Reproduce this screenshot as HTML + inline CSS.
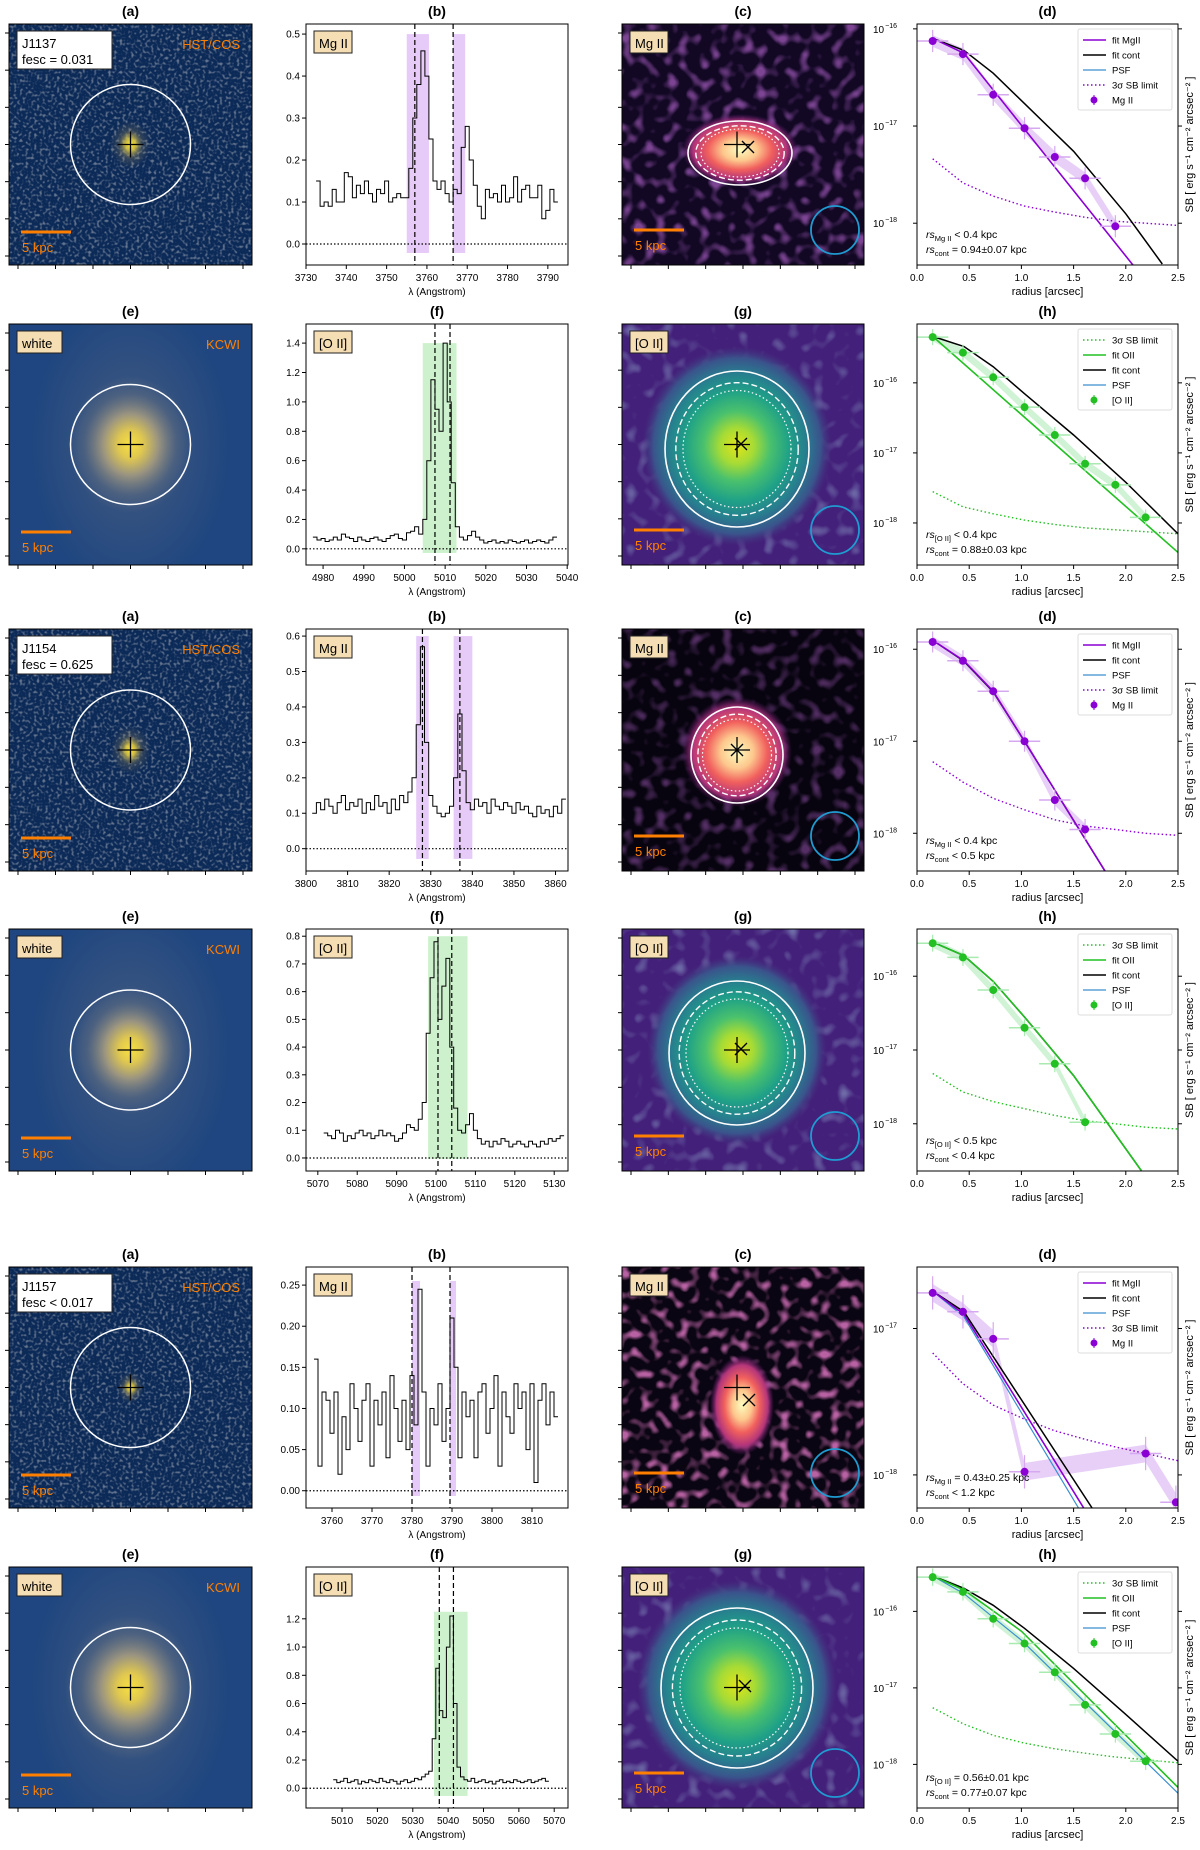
<!DOCTYPE html>
<html><head><meta charset="utf-8"><style>
html,body{margin:0;padding:0;background:#fff;}
svg text{font-family:"Liberation Sans","DejaVu Sans",sans-serif;}
</style></head><body>
<svg id="fig" xmlns="http://www.w3.org/2000/svg" width="1200" height="1845" viewBox="0 0 1200 1845">
<defs>
<filter id="speck" x="0" y="0" width="100%" height="100%">
<feTurbulence type="fractalNoise" baseFrequency="0.35" numOctaves="1" seed="3"/>
<feColorMatrix type="matrix" values="0 0 0 0 0.42  0 0 0 0 0.45  0 0 0 0 0.5  4 0 0 0 -2.0"/>
</filter>
<filter id="magnoise" x="0" y="0" width="100%" height="100%">
<feTurbulence type="fractalNoise" baseFrequency="0.09" numOctaves="1" seed="8"/>
<feColorMatrix type="matrix" values="0 0 0 0 0.35  0 0 0 0 0.1  0 0 0 0 0.48  4 0 0 0 -2.0"/>
</filter>
<filter id="magnoise2" x="0" y="0" width="100%" height="100%">
<feTurbulence type="fractalNoise" baseFrequency="0.1" numOctaves="1" seed="11"/>
<feColorMatrix type="matrix" values="0 0 0 0 0.6  0 0 0 0 0.15  0 0 0 0 0.45  4 0 0 0 -2.0"/>
</filter>
<filter id="virnoise" x="0" y="0" width="100%" height="100%">
<feTurbulence type="fractalNoise" baseFrequency="0.08" numOctaves="1" seed="4"/>
<feColorMatrix type="matrix" values="0 0 0 0 0.25  0 0 0 0 0.32  0 0 0 0 0.55  3 0 0 0 -1.6"/>
</filter>
<radialGradient id="gA"><stop offset="0" stop-color="#ffee30"/><stop offset="0.25" stop-color="#e8d040" stop-opacity="0.85"/><stop offset="0.6" stop-color="#8a8060" stop-opacity="0.3"/><stop offset="1" stop-color="#8a8060" stop-opacity="0"/></radialGradient>
<radialGradient id="gE"><stop offset="0" stop-color="#f8e040"/><stop offset="0.2" stop-color="#e0c850"/><stop offset="0.45" stop-color="#9a9480"/><stop offset="0.75" stop-color="#5a6a80" stop-opacity="0.6"/><stop offset="1" stop-color="#5a6a80" stop-opacity="0"/></radialGradient>
<radialGradient id="gHalo"><stop offset="0" stop-color="#6a7080" stop-opacity="0.5"/><stop offset="1" stop-color="#6a7080" stop-opacity="0"/></radialGradient>
<radialGradient id="gV"><stop offset="0" stop-color="#e3e418"/><stop offset="0.18" stop-color="#a5db36"/><stop offset="0.35" stop-color="#4ac16d"/><stop offset="0.55" stop-color="#1fa187"/><stop offset="0.72" stop-color="#277f8e"/><stop offset="0.88" stop-color="#3a548c"/><stop offset="1" stop-color="#46327e" stop-opacity="0"/></radialGradient>
<radialGradient id="gM"><stop offset="0" stop-color="#fcfdbf"/><stop offset="0.3" stop-color="#fdc78d"/><stop offset="0.55" stop-color="#f1605d"/><stop offset="0.8" stop-color="#b5367a"/><stop offset="1" stop-color="#721f81" stop-opacity="0"/></radialGradient>
</defs>
</svg>
<script>
// ---------------- data ----------------
const rowTops = [24, 324, 629, 929, 1267, 1567];
const rowBots = [265, 565, 871, 1171, 1508, 1808];

const spec1Start = 3733;
const spec1Flux = [0.15,0.09,0.10,0.09,0.13,0.10,0.10,0.17,0.16,0.11,0.14,0.12,0.15,0.12,0.10,0.13,0.12,0.15,0.10,0.11,0.12,0.11,0.11,0.18,0.30,0.38,0.46,0.40,0.25,0.15,0.13,0.15,0.12,0.10,0.13,0.12,0.23,0.28,0.20,0.14,0.09,0.06,0.13,0.11,0.12,0.10,0.14,0.10,0.11,0.16,0.10,0.13,0.14,0.11,0.11,0.14,0.06,0.08,0.13,0.10];
const spec1Lines = [3757, 3766.5];
const spec1Shades = [[3755, 3760.5], [3766.5, 3769.5]];
const spec1YTicks = [0, 0.1, 0.2, 0.3, 0.4, 0.5];
const spec1XTicks = [3730, 3740, 3750, 3760, 3770, 3780, 3790];

const spec2Start = 4978;
const spec2Flux = [0.08,0.06,0.07,0.05,0.06,0.08,0.06,0.10,0.08,0.07,0.05,0.08,0.06,0.05,0.07,0.08,0.06,0.05,0.07,0.09,0.10,0.07,0.06,0.11,0.12,0.15,0.10,0.20,0.60,1.15,0.95,0.80,1.40,1.00,0.45,0.15,0.08,0.06,0.09,0.12,0.08,0.06,0.04,0.05,0.06,0.04,0.05,0.04,0.06,0.05,0.04,0.05,0.06,0.04,0.05,0.06,0.05,0.04,0.06,0.08];
const spec2Lines = [5007.5, 5011.2];
const spec2Shades = [[5004.5, 5012.8]];
const spec2YTicks = [0, 0.2, 0.4, 0.6, 0.8, 1.0, 1.2, 1.4];
const spec2XTicks = [4980, 4990, 5000, 5010, 5020, 5030, 5040];

const spec3Start = 3802;
const spec3Flux = [0.10,0.13,0.11,0.14,0.12,0.10,0.13,0.15,0.11,0.13,0.12,0.14,0.10,0.13,0.11,0.15,0.12,0.13,0.10,0.14,0.11,0.15,0.13,0.16,0.20,0.35,0.57,0.30,0.15,0.12,0.10,0.09,0.10,0.12,0.20,0.38,0.22,0.13,0.11,0.14,0.12,0.13,0.10,0.14,0.12,0.11,0.13,0.12,0.10,0.13,0.11,0.12,0.10,0.09,0.12,0.10,0.11,0.09,0.12,0.10,0.14];
const spec3Lines = [3828, 3837];
const spec3Shades = [[3826.5, 3829.5], [3835.5, 3840]];
const spec3YTicks = [0, 0.1, 0.2, 0.3, 0.4, 0.5, 0.6];
const spec3XTicks = [3800, 3810, 3820, 3830, 3840, 3850, 3860];

const spec4Start = 5072;
const spec4Flux = [0.09,0.08,0.07,0.10,0.09,0.06,0.08,0.07,0.09,0.10,0.08,0.09,0.07,0.08,0.10,0.08,0.09,0.08,0.06,0.07,0.09,0.12,0.11,0.10,0.14,0.20,0.45,0.65,0.78,0.50,0.62,0.72,0.40,0.18,0.10,0.09,0.12,0.16,0.10,0.07,0.05,0.06,0.04,0.06,0.05,0.07,0.06,0.04,0.05,0.06,0.05,0.04,0.06,0.05,0.04,0.06,0.05,0.07,0.06,0.07,0.08];
const spec4Lines = [5100.5, 5104];
const spec4Shades = [[5098, 5108]];
const spec4YTicks = [0, 0.1, 0.2, 0.3, 0.4, 0.5, 0.6, 0.7, 0.8];
const spec4XTicks = [5070, 5080, 5090, 5100, 5110, 5120, 5130];

const spec5Start = 3756;
const spec5Flux = [0.16,0.03,0.12,0.11,0.07,0.12,0.02,0.09,0.05,0.13,0.10,0.06,0.11,0.13,0.03,0.11,0.08,0.12,0.04,0.14,0.10,0.06,0.11,0.05,0.14,0.08,0.245,0.12,0.03,0.10,0.08,0.13,0.06,0.10,0.21,0.15,0.04,0.12,0.09,0.11,0.04,0.12,0.13,0.07,0.10,0.14,0.03,0.12,0.09,0.07,0.13,0.10,0.12,0.05,0.13,0.01,0.11,0.13,0.08,0.12,0.09];
const spec5Lines = [3780, 3789.5];
const spec5Shades = [[3780, 3782], [3789.5, 3791]];
const spec5YTicks = [0, 0.05, 0.10, 0.15, 0.20, 0.25];
const spec5XTicks = [3760, 3770, 3780, 3790, 3800, 3810];

const spec6Start = 5008;
const spec6Flux = [0.06,0.04,0.05,0.07,0.04,0.05,0.06,0.03,0.05,0.04,0.06,0.05,0.04,0.07,0.05,0.04,0.06,0.05,0.03,0.05,0.06,0.04,0.05,0.07,0.06,0.08,0.10,0.12,0.35,0.85,0.55,0.50,1.00,1.22,0.60,0.15,0.08,0.06,0.05,0.07,0.04,0.05,0.06,0.04,0.05,0.03,0.05,0.06,0.04,0.05,0.04,0.06,0.05,0.04,0.05,0.06,0.04,0.05,0.06,0.07,0.05];
const spec6Lines = [5037.5, 5041.5];
const spec6Shades = [[5036, 5045.5]];
const spec6YTicks = [0, 0.2, 0.4, 0.6, 0.8, 1.0, 1.2];
const spec6XTicks = [5010, 5020, 5030, 5040, 5050, 5060, 5070];

const limitR = [0.15,0.44,0.73,1.03,1.32,1.61,1.90,2.19,2.5];
const prof1R = [0.15,0.44,0.73,1.03,1.32,1.61,1.90];
const prof1SB = [7.5e-17,5.5e-17,2.1e-17,9.5e-18,4.8e-18,2.9e-18,0.93e-18];
const fit1R = [0.15,0.45,2.07];
const fit1SB = [8e-17,5.6e-17,3.7e-19];
const cont1R = [0.15,0.45,0.73,1.03,1.5,2.0,2.35];
const cont1SB = [8e-17,6e-17,3.5e-17,1.7e-17,5.5e-18,1.25e-18,3.8e-19];
const lim1SB = [4.6e-18,2.6e-18,1.9e-18,1.5e-18,1.3e-18,1.15e-18,1.05e-18,1.0e-18,0.95e-18];

const prof2R = [0.15,0.44,0.73,1.03,1.32,1.61,1.90,2.19];
const prof2SB = [4.5e-16,2.7e-16,1.2e-16,4.5e-17,1.8e-17,7e-18,3.5e-18,1.2e-18];
const fit2R = [0.15,2.5];
const fit2SB = [4.6e-16,3.8e-19];
const cont2R = [0.15,0.45,0.73,1.03,1.5,2.0,2.5];
const cont2SB = [4.6e-16,3.3e-16,1.7e-16,7e-17,1.8e-17,3.8e-18,7e-19];
const lim2SB = [2.8e-18,1.7e-18,1.35e-18,1.1e-18,0.95e-18,0.85e-18,0.8e-18,0.75e-18,0.7e-18];

const prof3R = [0.15,0.44,0.73,1.03,1.32,1.61];
const prof3SB = [1.2e-16,7.5e-17,3.5e-17,1.0e-17,2.3e-18,1.1e-18];
const fit3R = [0.15,0.45,0.73,1.03,1.8];
const fit3SB = [1.25e-16,7.5e-17,3.5e-17,1e-17,3.9e-19];
const cont3R = [0.15,0.45,0.73,1.03,1.8];
const cont3SB = [1.25e-16,7.4e-17,3.45e-17,1e-17,3.9e-19];
const lim3SB = [6e-18,3.6e-18,2.4e-18,1.8e-18,1.4e-18,1.2e-18,1.1e-18,1.0e-18,0.95e-18];

const prof4R = [0.15,0.44,0.73,1.03,1.32,1.61];
const prof4SB = [2.8e-16,1.8e-16,6.5e-17,2e-17,6.5e-18,1.05e-18];
const fit4R = [0.15,0.45,0.73,1.03,1.5,2.15];
const fit4SB = [2.9e-16,1.9e-16,8.5e-17,2.8e-17,4.5e-18,2.3e-19];
const cont4R = [0.15,0.45,0.73,1.03,1.5,2.15];
const cont4SB = [2.9e-16,1.9e-16,8.5e-17,2.8e-17,4.5e-18,2.3e-19];
const lim4SB = [4.8e-18,2.7e-18,2e-18,1.6e-18,1.3e-18,1.1e-18,1.0e-18,0.9e-18,0.85e-18];

const prof5R = [0.15,0.44,0.73,1.03,2.19,2.48];
const prof5SB = [1.75e-17,1.3e-17,8.5e-18,1.05e-18,1.4e-18,6.5e-19];
const fit5R = [0.15,0.45,1.6];
const fit5SB = [1.8e-17,1.25e-17,5.9e-19];
const cont5R = [0.15,0.45,1.68];
const cont5SB = [1.8e-17,1.3e-17,5.9e-19];
const psf5R = [0.15,0.45,1.55];
const psf5SB = [1.8e-17,1.2e-17,5.9e-19];
const lim5SB = [6.8e-18,4.2e-18,3.0e-18,2.4e-18,2.0e-18,1.75e-18,1.55e-18,1.4e-18,1.25e-18];

const prof6R = [0.15,0.44,0.73,1.03,1.32,1.61,1.90,2.19];
const prof6SB = [2.8e-16,1.8e-16,8e-17,3.8e-17,1.6e-17,6e-18,2.5e-18,1.1e-18];
const fit6R = [0.15,0.45,1.0,2.5];
const fit6SB = [2.9e-16,1.9e-16,5.5e-17,5e-19];
const cont6R = [0.15,0.45,0.73,1.03,1.5,2.0,2.5];
const cont6SB = [2.9e-16,2.0e-16,1.2e-16,6e-17,1.8e-17,4.5e-18,1.1e-18];
const psf6R = [0.15,0.45,1.0,2.5];
const psf6SB = [2.9e-16,1.7e-16,4.2e-17,4.2e-19];
const lim6SB = [5.5e-18,3.4e-18,2.4e-18,1.9e-18,1.6e-18,1.4e-18,1.25e-18,1.15e-18,1.05e-18];

// ---------------- helpers ----------------
const NS = 'http://www.w3.org/2000/svg';
const svg = document.getElementById('fig');
function mk(tag, attrs, parent) {
  const e = document.createElementNS(NS, tag);
  for (const k in attrs) e.setAttribute(k, attrs[k]);
  (parent || svg).appendChild(e);
  return e;
}
function txt(s, x, y, size, parent, extra) {
  const t = mk('text', Object.assign({x: x, y: y, 'font-size': size, fill: '#000'}, extra || {}), parent);
  t.textContent = s;
  return t;
}
const C = {a: [9, 252], b: [306, 568], c: [622, 864], d: [917, 1178]};
let clipCount = 0;
function clipGroup(parent, x0, y0, x1, y1) {
  const id = 'imgclip' + (clipCount++);
  const cp = mk('clipPath', {id: id}, parent);
  mk('rect', {x: x0, y: y0, width: x1 - x0, height: y1 - y0}, cp);
  return mk('g', {'clip-path': 'url(#' + id + ')'}, parent);
}

function title(s, col, row) {
  const t = txt(s, (C[col][0] + C[col][1]) / 2, rowTops[row] - 8, 14, svg, {'text-anchor': 'middle', 'font-weight': 'bold'});
  
  
}
function labelBox(lines, x, y, w, parent, fill) {
  const h = lines.length * 16 + 6;
  const r = mk('rect', {x: x, y: y, width: w, height: h, fill: fill, stroke: '#222', 'stroke-width': 1}, parent);
  
  
  lines.forEach((l, i) => {
    const t = txt(l, x + 5, y + 17 + i * 16, 13, parent);
    
    
  });
}
function imgTicks(x0, y0, x1, y1, g) {
  for (let i = 0; i < 7; i++) {
    const x = x0 + 9 + i * (x1 - x0 - 18) / 6;
    mk('line', {x1: x, y1: y1, x2: x, y2: y1 + 4, stroke: '#000'}, g);
    const y = y0 + 9 + i * (y1 - y0 - 18) / 6;
    mk('line', {x1: x0 - 4, y1: y, x2: x0, y2: y, stroke: '#000'}, g);
  }
}
function cross(cx, cy, g, xmark) {
  mk('line', {x1: cx - 13, y1: cy, x2: cx + 13, y2: cy, stroke: '#000', 'stroke-width': 1.3}, g);
  mk('line', {x1: cx, y1: cy - 13, x2: cx, y2: cy + 13, stroke: '#000', 'stroke-width': 1.3}, g);
  if (xmark) {
    const [x, y] = xmark;
    mk('line', {x1: x - 6, y1: y - 6, x2: x + 6, y2: y + 6, stroke: '#000', 'stroke-width': 1.3}, g);
    mk('line', {x1: x - 6, y1: y + 6, x2: x + 6, y2: y - 6, stroke: '#000', 'stroke-width': 1.3}, g);
  }
}
function scaleBar(x, y, len, g) {
  const l = mk('line', {x1: x, y1: y, x2: x + len, y2: y, stroke: '#ff8000', 'stroke-width': 3}, g);
  
  
  const t = txt('5 kpc', x + 1, y + 20, 13, g, {fill: '#ff8000'});
  
  
}

function panelA(row, kind, lines, glow) {
  const y0 = rowTops[row], y1 = rowBots[row], x0 = C.a[0], x1 = C.a[1];
  const g = mk('g', {});
  
  
  const cx = (x0 + x1) / 2, cy = (y0 + y1) / 2;
  const ig = clipGroup(g, x0, y0, x1, y1);
  if (kind === 'hst') {
    mk('rect', {x: x0, y: y0, width: x1 - x0, height: y1 - y0, fill: '#0c2a58'}, ig);
    mk('rect', {x: x0, y: y0, width: x1 - x0, height: y1 - y0, filter: 'url(#speck)', opacity: 0.55}, ig);
    mk('ellipse', {cx: cx, cy: cy, rx: glow, ry: glow * 1.2, fill: 'url(#gA)'}, ig);
  } else {
    mk('rect', {x: x0, y: y0, width: x1 - x0, height: y1 - y0, fill: '#1f4680'}, ig);
    mk('ellipse', {cx: cx, cy: cy, rx: 100, ry: 150, fill: 'url(#gHalo)'}, ig);
    mk('ellipse', {cx: cx, cy: cy, rx: glow, ry: glow * 1.1, fill: 'url(#gE)'}, ig);
  }
  mk('rect', {x: x0, y: y0, width: x1 - x0, height: y1 - y0, fill: 'none', stroke: '#000'}, g);
  const circ = mk('circle', {cx: cx, cy: cy, r: 60, fill: 'none', stroke: '#fff', 'stroke-width': 1.5}, g);
  
  
  cross(cx, cy, g);
  labelBox(lines, x0 + 8, y0 + 7, kind === 'hst' ? 95 : 45, g, kind === 'hst' ? '#fff' : '#f5deb3');
  const inst = txt(kind === 'hst' ? 'HST/COS' : 'KCWI', x1 - 12, y0 + 25, 13, g, {fill: '#ff8000', 'text-anchor': 'end'});
  
  
  scaleBar(x0 + 12, y1 - 33, 50, g);
  imgTicks(x0, y0, x1, y1, g);
}

function panelC(row, kind, label, blob, xmark) {
  const y0 = rowTops[row], y1 = rowBots[row], x0 = C.c[0], x1 = C.c[1];
  const g = mk('g', {});
  
  
  const cx = (x0 + x1) / 2, cy = (y0 + y1) / 2;
  const ig = clipGroup(g, x0, y0, x1, y1);
  if (kind === 'mag') {
    mk('rect', {x: x0, y: y0, width: x1 - x0, height: y1 - y0, fill: blob.bg}, ig);
    mk('rect', {x: x0, y: y0, width: x1 - x0, height: y1 - y0, filter: blob.noisy ? 'url(#magnoise2)' : 'url(#magnoise)', opacity: blob.noiseOp}, ig);
    mk('ellipse', {cx: blob.cx, cy: blob.cy, rx: blob.rx, ry: blob.ry, fill: 'url(#gM)'}, ig);
  } else {
    mk('rect', {x: x0, y: y0, width: x1 - x0, height: y1 - y0, fill: '#43207a'}, ig);
    mk('rect', {x: x0, y: y0, width: x1 - x0, height: y1 - y0, filter: 'url(#virnoise)', opacity: 0.7}, ig);
    mk('ellipse', {cx: blob.cx, cy: blob.cy, rx: blob.rx, ry: blob.ry, fill: 'url(#gV)'}, ig);
  }
  if (blob.contour) {
    const [rx, ry] = blob.contour;
    const c1 = mk('ellipse', {cx: blob.cx, cy: blob.cy + 3, rx: rx, ry: ry, fill: 'none', stroke: '#fff', 'stroke-width': 1.6}, g);
    
    
    mk('ellipse', {cx: blob.cx, cy: blob.cy + 3, rx: rx * 0.85, ry: ry * 0.85, fill: 'none', stroke: '#fff', 'stroke-width': 1.4, 'stroke-dasharray': '6 3'}, g);
    mk('ellipse', {cx: blob.cx, cy: blob.cy + 3, rx: rx * 0.75, ry: ry * 0.75, fill: 'none', stroke: '#fff', 'stroke-width': 1.2, 'stroke-dasharray': '1.5 2.5'}, g);
  }
  mk('rect', {x: x0, y: y0, width: x1 - x0, height: y1 - y0, fill: 'none', stroke: '#000'}, g);
  cross(cx - 6, cy, g, xmark);
  labelBox([label], x0 + 8, y0 + 7, 38, g, '#f5deb3');
  scaleBar(x0 + 12, y1 - 35, 50, g);
  const psf = mk('circle', {cx: x1 - 29, cy: y1 - 35, r: 24, fill: 'none', stroke: '#1f9bd1', 'stroke-width': 1.8}, g);
  
  
  imgTicks(x0, y0, x1, y1, g);
}

function panelB(row, start, flux, lines, shades, shadeColor, label, yTicks, xTicks, ymin, ymax, xmin, xmax, shadeTop, dec) {
  const y0 = rowTops[row], y1 = rowBots[row], x0 = C.b[0], x1 = C.b[1];
  const g = mk('g', {});
  
  
  const X = w => x0 + (w - xmin) / (xmax - xmin) * (x1 - x0);
  const Y = v => y1 - (v - ymin) / (ymax - ymin) * (y1 - y0);
  shades.forEach(s => {
    const r = mk('rect', {x: X(s[0]), y: Y(shadeTop), width: X(s[1]) - X(s[0]), height: Y(ymin + (ymax - ymin) * 0.05) - Y(shadeTop), fill: shadeColor, opacity: 0.45}, g);
    
    
  });
  let d = '';
  flux.forEach((f, i) => {
    const wa = start + i - 0.5, wb = start + i + 0.5;
    d += (i === 0 ? 'M' : 'L') + X(wa).toFixed(1) + ',' + Y(f).toFixed(1) + 'L' + X(wb).toFixed(1) + ',' + Y(f).toFixed(1);
  });
  const p = mk('path', {d: d, fill: 'none', stroke: '#000', 'stroke-width': 1}, g);
  
  
  const z = mk('line', {x1: x0, y1: Y(0), x2: x1, y2: Y(0), stroke: '#000', 'stroke-width': 1.2, 'stroke-dasharray': '1.5 2'}, g);
  
  
  lines.forEach(w => {
    const l = mk('line', {x1: X(w), y1: y0, x2: X(w), y2: y1, stroke: '#000', 'stroke-width': 1.2, 'stroke-dasharray': '5 3'}, g);
    
    
  });
  mk('rect', {x: x0, y: y0, width: x1 - x0, height: y1 - y0, fill: 'none', stroke: '#000'}, g);
  yTicks.forEach(v => {
    mk('line', {x1: x0 - 4, y1: Y(v), x2: x0, y2: Y(v), stroke: '#000'}, g);
    const t = txt(v.toFixed(dec), x0 - 6, Y(v) + 3.5, 10, g, {'text-anchor': 'end'});
    
    
  });
  xTicks.forEach(v => {
    mk('line', {x1: X(v), y1: y1, x2: X(v), y2: y1 + 4, stroke: '#000'}, g);
    const t = txt(String(v), X(v), y1 + 16, 10, g, {'text-anchor': 'middle'});
    
    
  });
  const xl = txt('λ (Angstrom)', (x0 + x1) / 2, y1 + 30, 10, g, {'text-anchor': 'middle'});
  
  
  labelBox([label], x0 + 8, y0 + 7, 38, g, '#f5deb3');
}

function panelD(row, lmin, lmax, col, fitLabel, dataLabel, obs, fitR, fitSB, contR, contSB, psfR, psfSB, limSB, order, t1, t2, sub1) {
  const y0 = rowTops[row], y1 = rowBots[row], x0 = C.d[0], x1 = C.d[1];
  const g = mk('g', {});
  
  
  const X = r => x0 + r / 2.5 * (x1 - x0);
  const Y = v => y1 - (Math.log10(v) - lmin) / (lmax - lmin) * (y1 - y0);
  const inner = clipGroup(g, x0, y0, x1, y1);
  const light = col === 'mg' ? '#d6a8f0' : '#a8eab0';
  const dark = col === 'mg' ? '#8a00d4' : '#22c022';
  let up = '', lo = '';
  obs[0].forEach((r, i) => { up += (i ? 'L' : 'M') + X(r) + ',' + Y(obs[1][i] * 1.15); });
  for (let i = obs[0].length - 1; i >= 0; i--) lo += 'L' + X(obs[0][i]) + ',' + Y(obs[1][i] * 0.87);
  const band = mk('path', {d: up + lo + 'Z', fill: light, opacity: 0.55}, inner);
  
  
  const line = (R, S, stroke, w, dash, name) => {
    const d = R.map((r, i) => (i ? 'L' : 'M') + X(r).toFixed(1) + ',' + Y(S[i]).toFixed(1)).join('');
    const p = mk('path', {d: d, fill: 'none', stroke: stroke, 'stroke-width': w, 'stroke-dasharray': dash || 'none'}, inner);
    
    
  };
  line(limitR, limSB, dark, 1.4, '1.5 2.5', 'sb-limit-line');
  if (psfR) line(psfR, psfSB, '#3a8fd0', 1.2, null, 'psf-line');
  line(contR, contSB, '#000', 1.5, null, 'fit-cont-line');
  line(fitR, fitSB, dark, 1.6, null, 'fit-line-model');
  obs[0].forEach((r, i) => {
    const v = obs[1][i];
    mk('line', {x1: X(r - 0.15), y1: Y(v), x2: X(r + 0.15), y2: Y(v), stroke: light, 'stroke-width': 1.5}, inner);
    mk('line', {x1: X(r), y1: Y(v * 1.3), x2: X(r), y2: Y(v / 1.3), stroke: light, 'stroke-width': 1.2}, inner);
    const c = mk('circle', {cx: X(r), cy: Y(v), r: 4, fill: dark}, inner);
    
    
  });
  mk('rect', {x: x0, y: y0, width: x1 - x0, height: y1 - y0, fill: 'none', stroke: '#000'}, g);
  for (let e = Math.ceil(lmin); e <= Math.floor(lmax); e++) {
    const y = y1 - (e - lmin) / (lmax - lmin) * (y1 - y0);
    mk('line', {x1: x0 - 4, y1: y, x2: x0, y2: y, stroke: '#000'}, g);
    mk('line', {x1: x1, y1: y, x2: x1 + 4, y2: y, stroke: '#000'}, g);
    const t = txt('10', x0 - 20, y + 4, 10, g, {'text-anchor': 'end'});
    
    
    const ts = mk('tspan', {dx: 1, dy: -5, 'font-size': 7}, t);
    ts.textContent = '−' + (-e);
  }
  [0, 0.5, 1.0, 1.5, 2.0, 2.5].forEach(v => {
    mk('line', {x1: X(v), y1: y1, x2: X(v), y2: y1 + 4, stroke: '#000'}, g);
    const t = txt(v.toFixed(1), X(v), y1 + 16, 10, g, {'text-anchor': 'middle'});
    
    
  });
  const xl = txt('radius [arcsec]', (x0 + x1) / 2, y1 + 30, 11, g, {'text-anchor': 'middle'});
  
  
  const yl = txt('SB [ erg s⁻¹ cm⁻² arcsec⁻² ]', 0, 0, 11, g, {'text-anchor': 'middle', transform: 'translate(' + (x1 + 15) + ',' + ((y0 + y1) / 2) + ') rotate(-90)'});
  
  
  const lg = mk('g', {}, g);
  
  
  const lx = x1 - 100, ly = y0 + 5;
  mk('rect', {x: lx, y: ly, width: 94, height: order.length * 15 + 6, fill: '#fff', stroke: '#ddd', rx: 2}, lg);
  order.forEach((k, i) => {
    const y = ly + 11 + i * 15;
    let name, stroke = dark, dash = 'none', w = 1.6;
    if (k === 'fit') name = fitLabel;
    if (k === 'cont') { name = 'fit cont'; stroke = '#000'; }
    if (k === 'psf') { name = 'PSF'; stroke = '#3a8fd0'; w = 1.2; }
    if (k === 'lim') { name = '3σ SB limit'; dash = '1.5 2.5'; }
    if (k === 'data') {
      name = dataLabel;
      mk('circle', {cx: lx + 16, cy: y, r: 3.5, fill: dark}, lg);
      mk('line', {x1: lx + 16, y1: y - 5, x2: lx + 16, y2: y + 5, stroke: dark}, lg);
    } else {
      mk('line', {x1: lx + 5, y1: y, x2: lx + 28, y2: y, stroke: stroke, 'stroke-width': w, 'stroke-dasharray': dash}, lg);
    }
    const t = txt(name, lx + 34, y + 3.5, 9.5, lg);
    
    
  });
  const a1 = txt('', x0 + 9, y1 - 27, 10.5, g);
  
  
  const s1 = mk('tspan', {'font-style': 'italic'}, a1); s1.textContent = 'rs';
  const s2 = mk('tspan', {'font-size': 7.5, dy: 3}, a1); s2.textContent = sub1;
  const s3 = mk('tspan', {dy: -3}, a1); s3.textContent = ' ' + t1;
  const a2 = txt('', x0 + 9, y1 - 12, 10.5, g);
  
  
  const u1 = mk('tspan', {'font-style': 'italic'}, a2); u1.textContent = 'rs';
  const u2 = mk('tspan', {'font-size': 7.5, dy: 3}, a2); u2.textContent = 'cont';
  const u3 = mk('tspan', {dy: -3}, a2); u3.textContent = ' ' + t2;
}

const titlesTop = ['(a)', '(b)', '(c)', '(d)'], titlesBot = ['(e)', '(f)', '(g)', '(h)'];
[0, 1, 2, 3, 4, 5].forEach(r => {
  const T = r % 2 === 0 ? titlesTop : titlesBot;
  ['a', 'b', 'c', 'd'].forEach((c, i) => title(T[i], c, r));
});

panelA(0, 'hst', ['J1137', 'fesc = 0.031'], 20);
panelA(1, 'kcwi', ['white'], 62);
panelA(2, 'hst', ['J1154', 'fesc = 0.625'], 20);
panelA(3, 'kcwi', ['white'], 58);
panelA(4, 'hst', ['J1157', 'fesc < 0.017'], 13);
panelA(5, 'kcwi', ['white'], 66);

panelB(0, spec1Start, spec1Flux, spec1Lines, spec1Shades, '#c889f0', 'Mg II', spec1YTicks, spec1XTicks, -0.05, 0.524, 3730, 3795, 0.5, 1);
panelB(1, spec2Start, spec2Flux, spec2Lines, spec2Shades, '#8fe08f', '[O II]', spec2YTicks, spec2XTicks, -0.11, 1.53, 4975.8, 5040.2, 1.4, 1);
panelB(2, spec3Start, spec3Flux, spec3Lines, spec3Shades, '#c889f0', 'Mg II', spec3YTicks, spec3XTicks, -0.063, 0.62, 3800, 3863, 0.6, 1);
panelB(3, spec4Start, spec4Flux, spec4Lines, spec4Shades, '#8fe08f', '[O II]', spec4YTicks, spec4XTicks, -0.047, 0.826, 5067, 5133.5, 0.8, 1);
panelB(4, spec5Start, spec5Flux, spec5Lines, spec5Shades, '#c889f0', 'Mg II', spec5YTicks, spec5XTicks, -0.021, 0.272, 3753.5, 3819, 0.255, 2);
panelB(5, spec6Start, spec6Flux, spec6Lines, spec6Shades, '#8fe08f', '[O II]', spec6YTicks, spec6XTicks, -0.14, 1.567, 4999.8, 5073.9, 1.25, 1);

panelC(0, 'mag', 'Mg II', {bg: '#120824', cx: 740, cy: 150, rx: 58, ry: 36, noiseOp: 0.75, contour: [52, 32]}, [748, 147]);
panelC(1, 'vir', '[O II]', {cx: 737, cy: 446, rx: 95, ry: 100, contour: [72, 78]}, [741, 444]);
panelC(2, 'mag', 'Mg II', {bg: '#07040f', cx: 737, cy: 752, rx: 55, ry: 55, noiseOp: 0.5, contour: [46, 48]}, [737, 750]);
panelC(3, 'vir', '[O II]', {cx: 737, cy: 1050, rx: 90, ry: 95, contour: [68, 72]}, [741, 1049]);
panelC(4, 'mag', 'Mg II', {bg: '#0a0512', cx: 742, cy: 1405, rx: 32, ry: 50, noiseOp: 0.9, noisy: true, contour: null}, [749, 1400]);
panelC(5, 'vir', '[O II]', {cx: 737, cy: 1685, rx: 100, ry: 105, contour: [76, 80]}, [745, 1686]);

panelD(0, -18.43, -15.95, 'mg', 'fit MgII', 'Mg II', [prof1R, prof1SB], fit1R, fit1SB, cont1R, cont1SB, null, null, lim1SB, ['fit', 'cont', 'psf', 'lim', 'data'], '< 0.4 kpc', '= 0.94±0.07 kpc', 'Mg II');
panelD(1, -18.6, -15.16, 'o', 'fit OII', '[O II]', [prof2R, prof2SB], fit2R, fit2SB, cont2R, cont2SB, null, null, lim2SB, ['lim', 'fit', 'cont', 'psf', 'data'], '< 0.4 kpc', '= 0.88±0.03 kpc', '[O II]');
panelD(2, -18.41, -15.78, 'mg', 'fit MgII', 'Mg II', [prof3R, prof3SB], fit3R, fit3SB, cont3R, cont3SB, null, null, lim3SB, ['fit', 'cont', 'psf', 'lim', 'data'], '< 0.4 kpc', '< 0.5 kpc', 'Mg II');
panelD(3, -18.64, -15.36, 'o', 'fit OII', '[O II]', [prof4R, prof4SB], fit4R, fit4SB, cont4R, cont4SB, null, null, lim4SB, ['lim', 'fit', 'cont', 'psf', 'data'], '< 0.5 kpc', '< 0.4 kpc', '[O II]');
panelD(4, -18.226, -16.58, 'mg', 'fit MgII', 'Mg II', [prof5R, prof5SB], fit5R, fit5SB, cont5R, cont5SB, psf5R, psf5SB, lim5SB, ['fit', 'cont', 'psf', 'lim', 'data'], '= 0.43±0.25 kpc', '< 1.2 kpc', 'Mg II');
panelD(5, -18.57, -15.42, 'o', 'fit OII', '[O II]', [prof6R, prof6SB], fit6R, fit6SB, cont6R, cont6SB, psf6R, psf6SB, lim6SB, ['lim', 'fit', 'cont', 'psf', 'data'], '= 0.56±0.01 kpc', '= 0.77±0.07 kpc', '[O II]');
</script>
</body></html>
